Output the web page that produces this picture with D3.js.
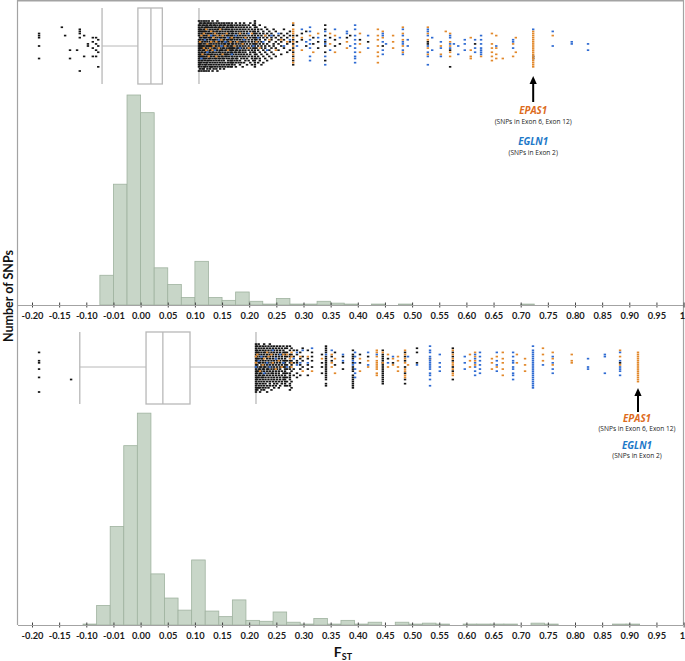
<!DOCTYPE html>
<html><head><meta charset="utf-8">
<script src="https://cdn.jsdelivr.net/npm/d3@7/dist/d3.min.js"></script>
<style>body{margin:0;background:#fff}svg{display:block}</style>
</head><body><svg id="c" width="685" height="661"></svg>
<script>
// ---------- DATA ----------
const tickValues = [-0.20,-0.15,-0.10,-0.05,0.00,0.05,0.10,0.15,0.20,0.25,0.30,0.35,0.40,0.45,0.50,0.55,0.60,0.65,0.70,0.75,0.80,0.85,0.90,0.95,1.00];
const tickLabels = ["-0.20","-0.15","-0.10","-0.01","0.00","0.05","0.10","0.15","0.20","0.25","0.30","0.35","0.40","0.45","0.50","0.55","0.60","0.65","0.70","0.75","0.80","0.85","0.90","0.95","1"];
const binWidth = 0.025;
// top histogram: bins start at -0.075
const topBinStart = -0.075;
const topCounts = [32,130,226,207,40,22,8,47,8,5,14,4,1,7,1,1,4,2,1,0,1,0,1,0,0,0,0,0,0,0,0,1];
// bottom histogram: first bin starts just below -0.10
const botBinStart = -0.106;
const botCounts = [1,21,106,193,228,55,29,16,70,15,9,27,5,4,14,3,1,7,1,5,1,3,0,3,1,2,1,0,1,1,1,1,0,2,1,0,0,0,0,1,1];
// box plots: [whiskerLow, q1, median, q3, whiskerHigh]
const topBoxStats = [-0.071, -0.005, 0.019, 0.040, 0.1075];
const botBoxStats = [-0.112, 0.010, 0.041, 0.091, 0.2125];
// jittered SNP points: [FST, black jitter codes, orange codes, blue codes]; a..y = jitter level (top to bottom)
const topPoints = [
 [-0.187,"ghims","",""],[-0.145,"d","",""],[-0.139,"h","",""],[-0.130,"os","",""],[-0.117,"o","",""],
 [-0.112,"efgiy","",""],[-0.104,"hr","",""],[-0.097,"lm","",""],[-0.088,"iknr","",""],[-0.082,"ilor","",""],[-0.078,"jmpw","",""],
 [0.1075,"acdefghjklmnopqrstuvwy","",""],[0.1095,"bcefhijlmnoqrsuvx","k",""],[0.1120,"abdefgiklmnpqrtuwy","h","s"],
 [0.1140,"cdfghjkmnoprstvx","q",""],[0.1165,"abcefhijlmoqrsuwxy","gn",""],[0.1185,"bdefgiknopqstvw","","j"],
 [0.1210,"acdfhijlmnprsuvy","eo",""],[0.1230,"bcdeghjkmoqrtuwx","l","p"],[0.1255,"abdfgilmnpqstvy","hr",""],
 [0.1280,"cefhijkmoprsuwx","n",""],[0.1300,"bcdgilmnoqrtvw","fk","h"],[0.1325,"adefhjkmpqsuwy","o",""],
 [0.1345,"bcfghjlnoprtvx","im",""],[0.1370,"cdeijkmnqrsuw","g","o"],[0.1395,"bdfghlmopstvx","kr",""],
 [0.1415,"acefijknoqruwy","h",""],[0.1440,"bdeghklmprstv","n","j"],[0.1465,"cdfgijnopqsuwx","e",""],
 [0.1490,"bcehiklmoqrtv","j","m"],[0.1510,"defgjknoprsuw","hq",""],[0.1535,"bcdhijlmnqstvx","",""],
 [0.1560,"cefgiklopqruw","m","k"],[0.1585,"bdehjkmnoqrsv","g",""],[0.1610,"cdfghjlmpqtuw","o","i"],
 [0.1630,"begiklnorsv","",""],[0.1655,"cdfhijmnopqtuw","k",""],[0.1680,"bcdefghijklmnopqrstuvw","i","q"],
 [0.1705,"dfgiklnoqsu","",""],[0.1730,"cehijmnprtv","m",""],[0.1755,"bdfgklopqsuw","","h"],[0.1780,"cehijmnorst","k",""],
 [0.1805,"dfgiklnpqu","",""],[0.1830,"bcehjmoprtv","g","n"],[0.1855,"dfgiklnqsu","",""],[0.1880,"cehjkmoprw","l",""],
 [0.1905,"bdfgilnqsu","","j"],[0.1930,"cehjkmoprt","i",""],[0.1960,"dfgilnqsv","",""],[0.1990,"cehjkmort","n","g"],
 [0.2020,"bdfilnpqu","",""],[0.2050,"ehjkmorsv","g",""],[0.2075,"cfgilnpt","","m"],[0.2105,"abcdefghijklmnopqrstuvw","",""],
 [0.2135,"dgijlnqs","k",""],[0.2165,"efhkmoru","","i"],[0.2195,"cgijlpst","n",""],[0.2225,"ehkmnqv","",""],
 [0.2260,"fgiloru","","k"],[0.2295,"dhjmnps","h",""],[0.2330,"egilqt","","o"],[0.2370,"fhkmor","j",""],
 [0.2410,"gijnps","","h"],[0.2450,"ehlmq","",""],[0.2490,"fiknr","o",""],[0.2540,"hjlo","","g"],
 [0.2590,"gikmq","j",""],[0.2640,"ehjn","","m"],[0.2700,"gilp","k",""],[0.2750,"fhko","","j"],
 [0.281,"chjlnprtv","befgikmoqsu",""],[0.288,"hk","","m"],[0.297,"gj","io","e"],[0.305,"fm","","k"],
 [0.312,"","h","dfjlnrt"],[0.318,"il","p",""],[0.327,"kn","g","i"],[0.340,"cehkmpt","","fjlrv"],[0.349,"i","gl","o"],
 [0.358,"jm","hp","e"],[0.367,"l","","i"],[0.380,"i","kn","fg"],[0.386,"h","","m"],[0.395,"","","cehjlnprsu"],
 [0.404,"j","glp",""],[0.419,"k","","hn"],[0.437,"","ehjmpru",""],[0.446,"m","fi","ghkoq"],[0.452,"","","l"],
 [0.465,"","hkn",""],[0.483,"","dgjmp","ehkloq"],[0.492,"","","jm"],[0.529,"kl","dgjnq","efhmprv"],[0.537,"","","io"],
 [0.553,"","mq","knr"],[0.562,"","f",""],[0.570,"ow","gkmpr","hiln"],[0.577,"","","l"],[0.585,"","","mq"],
 [0.597,"","","jlo"],[0.608,"","iors",""],[0.616,"l","","jnp"],[0.627,"","r","hjlnopq"],[0.647,"","glnprt",""],
 [0.655,"","hnqs","m"],[0.667,"","s",""],[0.686,"","lr","jkn"],[0.691,"","ip",""],
 [0.723,"rs","fghijklmnopqrstuvw","e"],[0.759,"","h","fm"],[0.794,"","","kl"],[0.824,"","","lo"]
];
const botPoints = [
 [-0.187,"fjknry","",""],[-0.128,"s","",""],
 [0.2125,"bcdefghijklmnopqrstuvwxy","hk","m"],[0.2150,"cefhijlmoprsuwx","g",""],[0.2175,"bdfgiknoqrtvw","","j"],
 [0.2200,"cehjkmnpqsuwy","o",""],[0.2225,"dfgilmoprtvx","","h"],[0.2250,"cehijknqrsuw","l",""],
 [0.2275,"bdfglmnoqtvx","i","p"],[0.2300,"cefhjkmprsuw","",""],[0.2330,"dghilnoqtvy","f","k"],
 [0.2355,"cefjkmnprsw","h",""],[0.2380,"bdghiloqtuv","","m"],[0.2410,"cefjkmnprsx","g",""],
 [0.2435,"dghilopqtv","k","e"],[0.2460,"cefjkmnrsuw","",""],[0.2490,"dghilopqtv","n","i"],
 [0.2515,"cefjkmnrsu","",""],[0.2545,"dghilopqtw","j",""],[0.2570,"cefjkmnrsv","","g"],
 [0.2600,"dghiloqtu","m",""],[0.2630,"cefjkmprs","g","k"],[0.2660,"dfghijklmnopqrstuv","",""],
 [0.2696,"cdfhjlnprtv","g","m"],[0.2750,"ceghjkmnpqrsuvx","i",""],[0.2780,"dgjlotw","fhkm",""],
 [0.282,"ehknq","","i"],[0.288,"egjkpr","","fl"],[0.294,"filnq","h","k"],[0.2985,"dhjm","o","e"],
 [0.308,"eilnq","h","k"],[0.3157,"fhjm","o","d"],[0.334,"gkmp","i",""],[0.3414,"cdefhijklmnopqrsuv","","g"],
 [0.352,"hj","gkm","e"],[0.358,"fl","ip",""],[0.3727,"hkn","","gj"],[0.391,"eghikmnoqrstuvw","","jl"],
 [0.395,"","","fhknpr"],[0.404,"gk","io",""],[0.419,"h","jm","fl"],[0.435,"","efhjklmnpq","g"],
 [0.446,"eghijklmnopqrstu","fk",""],[0.4556,"i","gm","k"],[0.4648,"k","il","h"],[0.474,"","hjmo",""],
 [0.487,"fhjmpsu","egiknoqr",""],[0.4925,"","l","h"],[0.509,"dfk","","l"],[0.533,"","i","cefhijklmnpqsv"],
 [0.551,"","","gkmo"],[0.575,"dfhjmos","egiklnpq",""],[0.597,"","","hkn"],[0.6066,"","gjm",""],
 [0.616,"","fhjl","gikmoq"],[0.625,"","","fhjlnp"],[0.647,"","ikn",""],[0.656,"","hm","fjlo"],[0.667,"","fiknq",""],
 [0.686,"","","fhjkmnpqs"],[0.693,"","gk",""],[0.708,"","ilo",""],[0.7226,"","","cefghijklmnopqrstuvw"],
 [0.741,"","dgj","l"],[0.759,"","fil","hknp"],[0.794,"","gjk",""],[0.824,"","","imn"],[0.855,"","","ghp"],
 [0.883,"k","ehl","fjmnoq"],[0.916,"","fghijklmnopqrst",""]
];
const geneLabels = ["EPAS1","EGLN1"];
const geneNotes = ["(SNPs in Exon 6, Exon 12)","(SNPs in Exon 2)"];
const arrowFst = [0.723, 0.916];

// ---------- DRAW ----------
const svg = d3.select("#c");
const x = d3.scaleLinear().domain([-0.2, 1]).range([32, 683.6]);
const frameCol = "#a3a3a3";
const histFill = "#c8d6c8", histStroke = "#9fb29f";
const colors = {k:"#151515", o:"#e2892c", b:"#2f6bd2"};
const cnt = d3.scaleLinear().domain([0, 240]).range([0, 223]);
const jit = d3.scaleLinear().domain([0, 24]).range([-25, 25]);

// frame
svg.append("line").attr("x1",17).attr("x2",684).attr("y1",0.5).attr("y2",0.5).attr("stroke",frameCol).attr("stroke-width",2);
svg.append("line").attr("x1",17.5).attr("x2",17.5).attr("y1",0).attr("y2",625).attr("stroke",frameCol).attr("stroke-width",1.2);
svg.append("line").attr("x1",683.5).attr("x2",683.5).attr("y1",0).attr("y2",625).attr("stroke",frameCol).attr("stroke-width",1.2);

function panel(cfg){
  const g = svg.append("g");
  // histogram
  const bins = cfg.counts.map((c,i)=>({x0: cfg.binStart + i*binWidth, c}));
  g.selectAll("rect.h").data(bins.filter(b=>b.c>0)).join("rect")
    .attr("x", d=>x(d.x0)).attr("width", d=>x(d.x0+binWidth)-x(d.x0))
    .attr("y", d=>cfg.base - cnt(d.c)).attr("height", d=>cnt(d.c))
    .attr("fill", histFill).attr("stroke", histStroke).attr("stroke-width",0.8);
  // axis
  const ax = g.append("g").attr("transform",`translate(0,${cfg.base})`)
    .call(d3.axisBottom(x).tickValues(tickValues).tickFormat((d,i)=>tickLabels[i]).tickSize(2.5).tickPadding(5));
  ax.select(".domain").remove();
  g.append("line").attr("x1",18).attr("x2",683).attr("y1",cfg.base+0.5).attr("y2",cfg.base+0.5).attr("stroke",frameCol).attr("stroke-width",1.2);
  ax.selectAll(".tick line").attr("y1",-2.5).attr("stroke","#444");
  ax.selectAll(".tick text").attr("font-family","Lato, 'Open Sans', sans-serif").attr("font-weight",700)
    .attr("font-size","9.3px").attr("fill","#1a1a1a");
  ax.selectAll(".tick:last-of-type text").attr("text-anchor","end").attr("dx",1);
  // box plot
  const [lo,q1,md,q3,hi] = cfg.box;
  const bc = "#b8b8b8";
  g.append("line").attr("x1",x(lo)).attr("x2",x(q1)).attr("y1",cfg.cy).attr("y2",cfg.cy).attr("stroke",bc);
  g.append("line").attr("x1",x(q3)).attr("x2",x(hi)).attr("y1",cfg.cy).attr("y2",cfg.cy).attr("stroke",bc);
  [lo,hi].forEach(v=>g.append("line").attr("x1",x(v)).attr("x2",x(v)).attr("y1",cfg.bt).attr("y2",cfg.bb).attr("stroke",bc).attr("stroke-width",1.3));
  g.append("rect").attr("x",x(q1)).attr("width",x(q3)-x(q1)).attr("y",cfg.bt).attr("height",cfg.bb-cfg.bt)
    .attr("fill","none").attr("stroke",bc).attr("stroke-width",1.3);
  g.append("line").attr("x1",x(md)).attr("x2",x(md)).attr("y1",cfg.bt).attr("y2",cfg.bb).attr("stroke",bc).attr("stroke-width",1.3);
  // points
  ["k","o","b"].forEach((c,ci)=>{
    const pts = [];
    cfg.points.forEach(p=>{ for(const ch of p[ci+1]) pts.push({v:p[0], j:ch.charCodeAt(0)-97}); });
    g.selectAll("rect.p"+c).data(pts).join("rect")
      .attr("x", d=>x(d.v)-1.2).attr("y", d=>cfg.cy + jit(d.j) - 0.85)
      .attr("width",2.4).attr("height",1.7).attr("fill",colors[c]);
  });
  // arrow + labels
  const ax0 = x(cfg.arrow);
  g.append("line").attr("x1",ax0).attr("x2",ax0).attr("y1",cfg.aTip+5).attr("y2",cfg.aBase).attr("stroke","#000").attr("stroke-width",2);
  g.append("path").attr("d",`M${ax0},${cfg.aTip} L${ax0-3.6},${cfg.aTip+8} L${ax0+3.6},${cfg.aTip+8} Z`).attr("fill","#000");
  const lx = ax0 + (cfg.labelDx||0);
  const t = g.append("g").attr("font-family","'Open Sans', Lato, sans-serif").attr("text-anchor","middle");
  t.append("text").attr("x",lx).attr("y",cfg.ly[0]).attr("font-size","9.8px").attr("font-weight",700).attr("font-style","italic").attr("fill","#dd6b1c").text(geneLabels[0]);
  t.append("text").attr("x",lx).attr("y",cfg.ly[1]).attr("font-size","6.6px").attr("fill","#222").text(geneNotes[0]);
  t.append("text").attr("x",lx).attr("y",cfg.ly[2]).attr("font-size","9.8px").attr("font-weight",700).attr("font-style","italic").attr("fill","#1d78c8").text(geneLabels[1]);
  t.append("text").attr("x",lx).attr("y",cfg.ly[3]).attr("font-size","6.6px").attr("fill","#222").text(geneNotes[1]);
}

panel({counts: topCounts, binStart: topBinStart, base: 305, box: topBoxStats, cy: 46, bt: 8, bb: 84,
  points: topPoints, arrow: arrowFst[0], aTip: 76, aBase: 102, ly: [114, 124, 145, 155]});
panel({counts: botCounts, binStart: botBinStart, base: 625, box: botBoxStats, cy: 367, bt: 332, bb: 404,
  points: botPoints, arrow: arrowFst[1], aTip: 388, aBase: 412, labelDx: -1, ly: [422, 431, 449, 458]});

// axis titles
svg.append("text").attr("transform","translate(13,296) rotate(-90)").attr("text-anchor","middle")
  .attr("font-family","Lato, 'Open Sans', sans-serif").attr("font-weight",700).attr("font-size","12.5px").attr("fill","#111")
  .text("Number of SNPs");
const ft = svg.append("text").attr("x",343).attr("y",657).attr("text-anchor","middle")
  .attr("font-family","Lato, 'Open Sans', sans-serif").attr("font-weight",700).attr("fill","#111");
ft.append("tspan").attr("font-size","14px").text("F");
ft.append("tspan").attr("font-size","9px").attr("dy",3).text("ST");
</script></body></html>
